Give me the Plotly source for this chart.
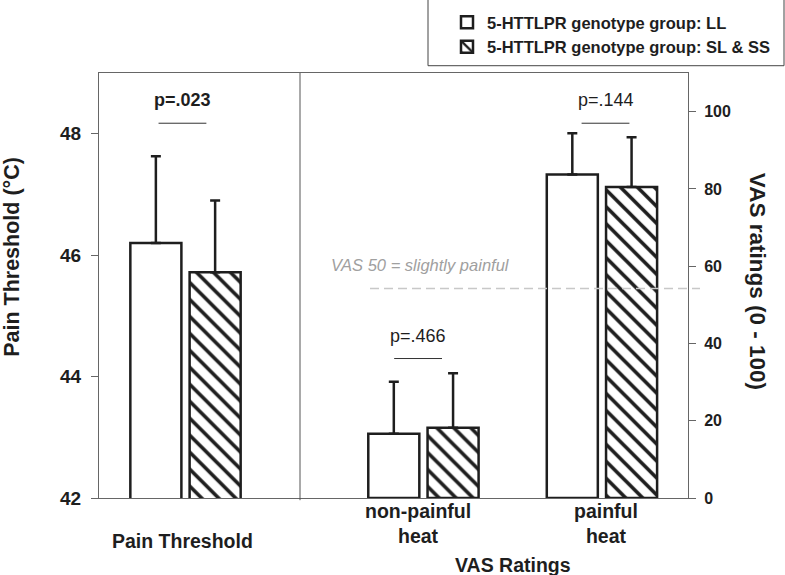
import plotly.graph_objects as go

# ---------------- data ----------------
categories = ["Pain Threshold", "non-painful<br>heat", "painful<br>heat"]
group_names = ["5-HTTLPR genotype group: LL", "5-HTTLPR genotype group: SL & SS"]
ll_mean = [46.20, 16.6, 83.7]
ll_err = [1.43, 13.5, 10.7]
ss_mean = [45.72, 18.2, 80.5]
ss_err = [1.18, 14.1, 12.9]
p_labels = ["p=.023", "p=.466", "p=.144"]
left_ticks = [42, 44, 46, 48]
right_ticks = [0, 20, 40, 60, 80, 100]
vas_ref_value = 54.2
vas_ref_label = "VAS 50 = slightly painful"

# ---------------- layout constants ----------------
FONT = "Liberation Sans, Arial, sans-serif"
INK = "#1e1e1e"
AX = "#666666"
GROUP_X = [0.0, 1.333, 2.333]
OFF = 0.166
BW = 0.286
LABEL_SHIFT = [-0.017, -0.03, 0.02]

W, H = 785, 575
L, R, T, B = 99, 97, 73, 76.7
PW, PH = W - L - R, H - T - B


def px_to_paper_x(px):
    return (px - L) / PW


def px_to_paper_y(py):
    return (H - B - py) / PH


fig = go.Figure()

series = [
    (group_names[0], ll_mean, ll_err, -OFF, ""),
    (group_names[1], ss_mean, ss_err, OFF, "\\"),
]
for name, means, errs, off, shape in series:
    marker = dict(
        color="white",
        line=dict(color=INK, width=2.5),
        pattern=dict(shape=shape, fgcolor=INK, bgcolor="white", size=12, solidity=0.3,
                     fillmode="replace", fgopacity=1),
    )
    err_style = dict(type="data", symmetric=False, color=INK, thickness=2.5, width=5)
    fig.add_trace(go.Bar(
        x=[GROUP_X[0] + off], y=[means[0]], width=BW, name="<b>%s</b>" % name,
        legendgroup=name, showlegend=True, marker=marker, yaxis="y",
        error_y=dict(array=[errs[0]], arrayminus=[0], **err_style),
        hoverinfo="skip",
    ))
    fig.add_trace(go.Bar(
        x=[GROUP_X[1] + off, GROUP_X[2] + off], y=means[1:], width=BW, name=name,
        legendgroup=name, showlegend=False, marker=marker, yaxis="y2",
        error_y=dict(array=errs[1:], arrayminus=[0, 0], **err_style),
        hoverinfo="skip",
    ))

annotations = []
shapes = []

p_y_text = [102.9, 42.0, 102.9]
p_y_line = [97.0, 36.1, 97.0]
for i, lab in enumerate(p_labels):
    cx = GROUP_X[i] + LABEL_SHIFT[i]
    txt = "<b>%s</b>" % lab if i == 0 else lab
    annotations.append(dict(
        x=cx, y=p_y_text[i], xref="x", yref="y2", text=txt, showarrow=False,
        font=dict(family=FONT, size=18, color=INK), xanchor="center", yanchor="middle",
    ))
    shapes.append(dict(
        type="line", xref="x", yref="y2", x0=cx - 0.134, x1=cx + 0.134,
        y0=p_y_line[i], y1=p_y_line[i], line=dict(color="#333333", width=1),
    ))

cat_y = [px_to_paper_y(541), px_to_paper_y(524), px_to_paper_y(524)]
for i, c in enumerate(categories):
    annotations.append(dict(
        x=GROUP_X[i] + LABEL_SHIFT[i], y=cat_y[i], xref="x", yref="paper",
        text="<b>%s</b>" % c, showarrow=False,
        font=dict(family=FONT, size=19.5, color=INK), xanchor="center", yanchor="middle",
    ))
annotations.append(dict(
    x=(GROUP_X[1] + GROUP_X[2]) / 2, y=px_to_paper_y(565), xref="x", yref="paper",
    text="<b>VAS Ratings</b>", showarrow=False,
    font=dict(family=FONT, size=19.5, color=INK), xanchor="center", yanchor="middle",
))

annotations.append(dict(
    x=px_to_paper_x(12), y=px_to_paper_y(257), xref="paper", yref="paper",
    text="<b>Pain Threshold (°C)</b>", showarrow=False, textangle=-90,
    font=dict(family=FONT, size=21.5, color=INK), xanchor="center", yanchor="middle",
))
annotations.append(dict(
    x=px_to_paper_x(757), y=px_to_paper_y(281), xref="paper", yref="paper",
    text="<b>VAS ratings (0 - 100)</b>", showarrow=False, textangle=90,
    font=dict(family=FONT, size=22.5, color=INK), xanchor="center", yanchor="middle",
))

shapes.append(dict(
    type="line", xref="paper", yref="y2", x0=px_to_paper_x(370), x1=px_to_paper_x(700),
    y0=vas_ref_value, y1=vas_ref_value, line=dict(color="#c8c8c8", width=1.5, dash="9px,5px"),
))
annotations.append(dict(
    x=px_to_paper_x(329), y=60.4, xref="paper", yref="y2", text=vas_ref_label,
    showarrow=False, xanchor="left", yanchor="middle",
    font=dict(family=FONT, size=16.5, color="#a0a0a0", style="italic"),
))

shapes.append(dict(
    type="line", xref="paper", yref="paper", x0=px_to_paper_x(300), x1=px_to_paper_x(300),
    y0=px_to_paper_y(500.5), y1=1, line=dict(color="#555555", width=1),
))

shapes.append(dict(
    type="rect", xref="paper", yref="paper",
    x0=px_to_paper_x(428), x1=px_to_paper_x(784),
    y0=px_to_paper_y(65.7), y1=px_to_paper_y(-3),
    line=dict(color="#444444", width=1), fillcolor="rgba(0,0,0,0)",
))

fig.update_layout(
    template="none",
    width=W, height=H,
    margin=dict(l=L, r=R, t=T, b=B, pad=0, autoexpand=False),
    paper_bgcolor="white", plot_bgcolor="white",
    barmode="overlay",
    font=dict(family=FONT, color=INK),
    xaxis=dict(
        range=[-86.5 / 178.5, (PW - 86.5) / 178.5], automargin=False,
        showticklabels=False, ticks="", showgrid=False, zeroline=False,
        showline=True, mirror=True, linecolor=AX, linewidth=1,
    ),
    yaxis=dict(
        range=[42, 49], tickvals=left_ticks, ticktext=["<b>%d</b>" % v for v in left_ticks],
        ticks="outside", ticklen=7, tickcolor=AX, tickwidth=1, automargin=False,
        showline=True, linecolor=AX, linewidth=1, showgrid=False, zeroline=False,
        tickfont=dict(family=FONT, size=19, color=INK), ticklabelstandoff=6,
    ),
    yaxis2=dict(
        range=[0, 110], tickvals=right_ticks, ticktext=["<b>%d</b>" % v for v in right_ticks],
        overlaying="y", side="right", automargin=False,
        ticks="outside", ticklen=7, tickcolor=AX, tickwidth=1,
        showline=True, linecolor=AX, linewidth=1, showgrid=False, zeroline=False,
        tickfont=dict(family=FONT, size=16, color=INK), ticklabelstandoff=5,
    ),
    legend=dict(
        xref="container", yref="container", x=447 / W, y=1 - 5 / H,
        xanchor="left", yanchor="top", bgcolor="rgba(0,0,0,0)", borderwidth=0,
        font=dict(family=FONT, size=16.5, color=INK), traceorder="normal",
        tracegroupgap=0,
    ),
    annotations=annotations,
    shapes=shapes,
)

fig.write_html(
    "out.html",
    config={"displayModeBar": False, "staticPlot": True},
    post_script="document.body.style.margin='0';document.body.style.overflow='hidden';",
)
